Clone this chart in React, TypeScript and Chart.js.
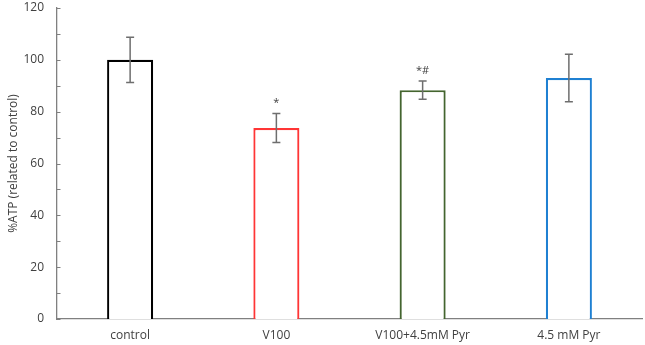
import React, { useEffect, useRef } from "react";
import { Chart, registerables } from "chart.js";

Chart.register(...registerables);

const categories = ["control", "V100", "V100+4.5mM Pyr", "4.5 mM Pyr"];
const means = [100, 73.7, 88.3, 93.0];
const errors = [8.7, 5.6, 3.5, 9.2];
const marks = ["", "*", "*#", ""];
const barColors = ["#000000", "#ff3535", "#44652f", "#1f80d2"];
const yTicksMajor = [0, 20, 40, 60, 80, 100, 120];
const yTicksMinor = [0, 10, 20, 30, 40, 50, 60, 70, 80, 90, 100, 110, 120];

const FONT = "'Open Sans', 'DejaVu Sans', sans-serif";

const overlayPlugin = {
  id: "overlay",
  afterDatasetsDraw(chart: any) {
    const ctx = chart.ctx;
    const xs = chart.scales.x;
    const ys = chart.scales.y;
    ctx.save();
    ctx.strokeStyle = "#808080";
    ctx.lineWidth = 1;
    yTicksMinor.forEach((v) => {
      const py = Math.round(ys.getPixelForValue(v)) + 0.5;
      ctx.beginPath();
      ctx.moveTo(xs.left, py);
      ctx.lineTo(xs.left + 3.5, py);
      ctx.stroke();
    });
    ctx.strokeStyle = "#6e6e6e";
    ctx.lineWidth = 1.5;
    means.forEach((m, i) => {
      const px = xs.getPixelForValue(i);
      const top = ys.getPixelForValue(m + errors[i]);
      const bot = ys.getPixelForValue(m - errors[i]);
      ctx.beginPath();
      ctx.moveTo(px, top);
      ctx.lineTo(px, bot);
      ctx.moveTo(px - 4, top);
      ctx.lineTo(px + 4, top);
      ctx.moveTo(px - 4, bot);
      ctx.lineTo(px + 4, bot);
      ctx.stroke();
      if (marks[i]) {
        ctx.fillStyle = "#404040";
        ctx.font = `11px ${FONT}`;
        ctx.textAlign = "center";
        ctx.textBaseline = "alphabetic";
        ctx.fillText(marks[i], px, top - 7);
      }
    });
    ctx.restore();
  },
};

export default function App() {
  const ref = useRef<HTMLCanvasElement | null>(null);
  useEffect(() => {
    document.body.style.margin = "0";
    const chart = new Chart(ref.current as HTMLCanvasElement, {
      type: "bar",
      data: {
        labels: categories,
        datasets: [
          {
            data: means,
            backgroundColor: "rgba(255,255,255,1)",
            borderColor: barColors,
            borderWidth: 2.2,
            barPercentage: 0.315,
            categoryPercentage: 1,
          },
        ],
      },
      options: {
        animation: false,
        responsive: false,
        maintainAspectRatio: false,
        layout: { padding: { top: 8, right: 3, left: 0, bottom: 0 } },
        plugins: { legend: { display: false }, tooltip: { enabled: false } },
        scales: {
          x: {
            grid: { display: false, drawTicks: false },
            border: { display: true, color: "#808080", width: 1.3 },
            ticks: {
              color: "#404040",
              font: { family: FONT, size: 12 },
              padding: 9,
              maxRotation: 0,
            },
            afterFit: (s: any) => {
              s.height = 26;
              s.paddingLeft = 0;
              s.paddingRight = 0;
            },
          },
          y: {
            min: 0,
            max: 120,
            grid: { display: false, drawTicks: false },
            border: { display: true, color: "#808080", width: 1.3 },
            ticks: {
              stepSize: 20,
              color: "#404040",
              font: { family: FONT, size: 12 },
              padding: 13,
              callback: (v: any) => (yTicksMajor.includes(Number(v)) ? String(v) : ""),
            },
            title: {
              display: true,
              text: "%ATP (related to control)",
              color: "#404040",
              font: { family: FONT, size: 12 },
              padding: { top: 6, bottom: 0 },
            },
            afterFit: (s: any) => {
              s.width = 57;
              s.paddingTop = 0;
              s.paddingBottom = 0;
            },
          },
        },
      },
      plugins: [overlayPlugin],
    });
    return () => chart.destroy();
  }, []);
  return (
    <div style={{ position: "fixed", left: 0, top: 0, width: 645, height: 345, background: "#fff" }}>
      <canvas ref={ref} width={645} height={345} style={{ width: 645, height: 345 }} />
    </div>
  );
}
